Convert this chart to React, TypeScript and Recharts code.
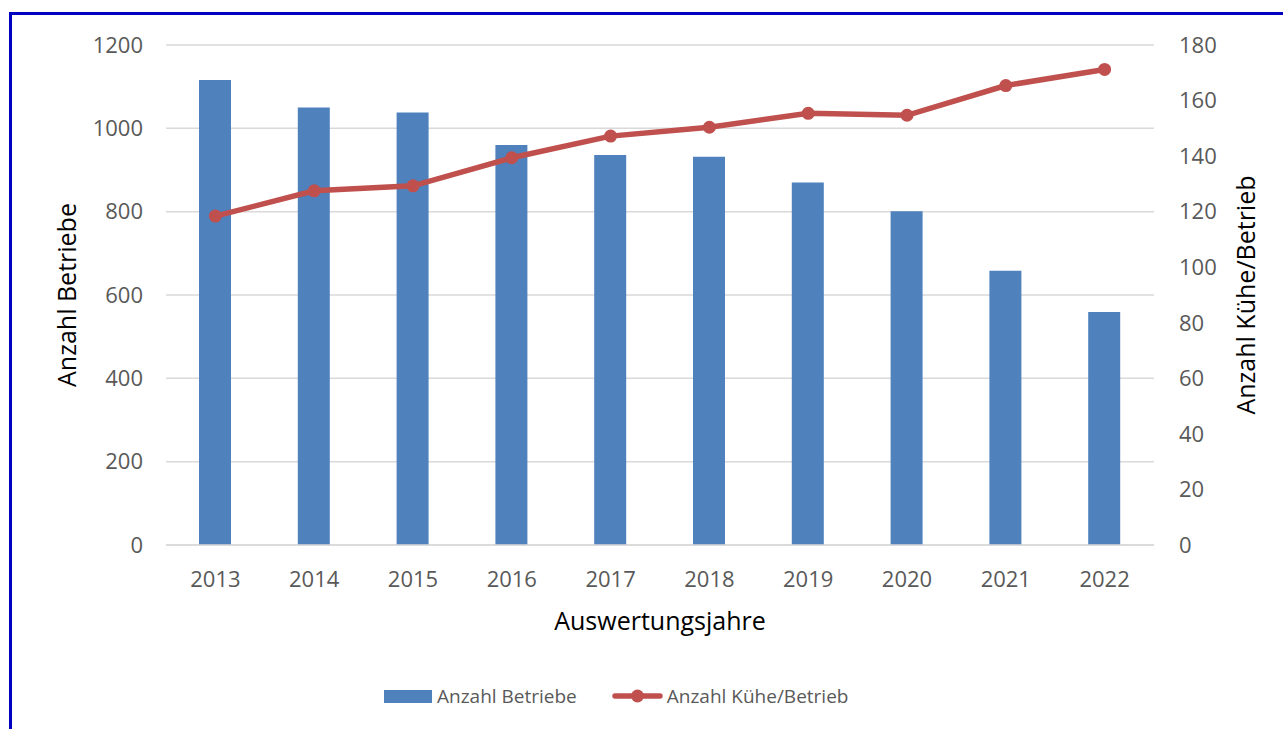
import {
  ComposedChart,
  Bar,
  Line,
  XAxis,
  YAxis,
  CartesianGrid,
  Legend,
} from "recharts";

const years = ["2013", "2014", "2015", "2016", "2017", "2018", "2019", "2020", "2021", "2022"];
const betriebe = [1116, 1050, 1038, 960, 936, 932, 870, 801, 658, 559];
const kuehe = [118.4, 127.5, 129.3, 139.4, 147.2, 150.4, 155.4, 154.7, 165.4, 171.2];
const leftTicks = [0, 200, 400, 600, 800, 1000, 1200];
const rightTicks = [0, 20, 40, 60, 80, 100, 120, 140, 160, 180];

const data = years.map((year, i) => ({
  year,
  betriebe: betriebe[i],
  kuehe: kuehe[i],
}));

const BLUE = "#4f81bd";
const RED = "#c0504d";
const FONT = "'Open Sans', sans-serif";

const tickStyle = { fill: "#595959", fontSize: 22, fontFamily: FONT };
const titleStyle = { fill: "#000", fontSize: 25, fontFamily: FONT, textAnchor: "middle" as const };

function LegendContent() {
  const text = { fontFamily: FONT, fontSize: 19, color: "#595959", lineHeight: "30px" };
  return (
    <div style={{ display: "flex", alignItems: "center", height: 30, paddingLeft: 384 }}>
      <svg width={48} height={13} style={{ display: "block" }}>
        <rect x={0} y={0} width={48} height={13} fill={BLUE} />
      </svg>
      <span style={{ ...text, marginLeft: 5 }}>Anzahl Betriebe</span>
      <svg width={51} height={16} style={{ display: "block", marginLeft: 35 }}>
        <line x1={3} y1={8} x2={48} y2={8} stroke={RED} strokeWidth={5.5} strokeLinecap="round" />
        <circle cx={25.5} cy={8} r={6.5} fill={RED} />
      </svg>
      <span style={{ ...text, marginLeft: 4 }}>Anzahl Kühe/Betrieb</span>
    </div>
  );
}

export default function App() {
  return (
    <div
      style={{
        position: "absolute",
        left: 0,
        top: 0,
        width: 1283,
        height: 729,
        overflow: "hidden",
        background: "#fff",
      }}
    >
      <div
        style={{
          position: "absolute",
          left: 9,
          top: 12,
          width: 1400,
          height: 900,
          border: "3px solid #0000bf",
          boxSizing: "border-box",
        }}
      />
      <div style={{ position: "absolute", left: 0, top: 0 }}>
        <ComposedChart
          width={1283}
          height={729}
          data={data}
          margin={{ top: 45, right: 29, bottom: 64, left: 66 }}
          barCategoryGap={0}
        >
          <CartesianGrid vertical={false} stroke="#d9d9d9" strokeWidth={1.5} yAxisId="left" />
          <XAxis
            dataKey="year"
            height={90}
            tickLine={false}
            tickSize={0}
            tickMargin={26}
            axisLine={{ stroke: "#d9d9d9", strokeWidth: 1.5 }}
            tick={tickStyle}
            label={{ value: "Auswertungsjahre", position: "insideBottom", offset: 5, style: titleStyle }}
          />
          <YAxis
            yAxisId="left"
            orientation="left"
            width={100}
            domain={[0, 1200]}
            ticks={leftTicks}
            tickLine={false}
            tickSize={0}
            tickMargin={23}
            axisLine={false}
            tick={tickStyle}
            label={{ value: "Anzahl Betriebe", angle: -90, position: "insideLeft", offset: 1, style: titleStyle }}
          />
          <YAxis
            yAxisId="right"
            orientation="right"
            width={100}
            domain={[0, 180]}
            ticks={rightTicks}
            tickLine={false}
            tickSize={0}
            tickMargin={25}
            axisLine={false}
            tick={{ ...tickStyle, textAnchor: "start" }}
            label={{ value: "Anzahl Kühe/Betrieb", angle: -90, position: "insideRight", offset: 8, style: titleStyle }}
          />
          <Legend
            verticalAlign="bottom"
            height={30}
            content={<LegendContent />}
            wrapperStyle={{ left: 0, width: 1283, bottom: 18 }}
          />
          <Bar
            yAxisId="left"
            dataKey="betriebe"
            name="Anzahl Betriebe"
            fill={BLUE}
            barSize={32}
            isAnimationActive={false}
          />
          <Line
            yAxisId="right"
            dataKey="kuehe"
            name="Anzahl Kühe/Betrieb"
            type="linear"
            stroke={RED}
            strokeWidth={5.5}
            dot={{ r: 6.5, fill: RED, stroke: RED, strokeWidth: 0 }}
            activeDot={false}
            isAnimationActive={false}
          />
        </ComposedChart>
      </div>
    </div>
  );
}
